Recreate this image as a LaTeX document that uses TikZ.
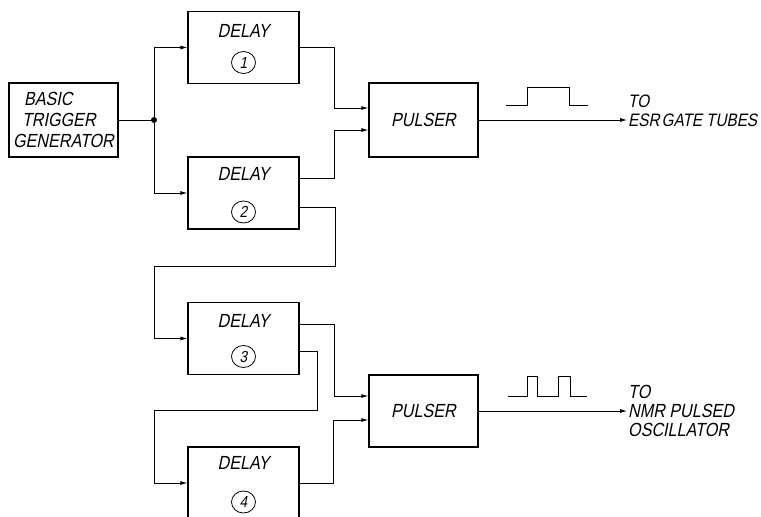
\documentclass[tikz,border=0pt]{standalone}
\usepackage{fontspec}
\newfontfamily\lettering{Liberation Sans}[FakeSlant=0.2,FakeStretch=0.85]
\usetikzlibrary{arrows.meta, positioning, calc, shapes.geometric}
\tikzset{
  box/.style={draw, line width=1.3pt, align=center, inner sep=0pt},
  delaybox/.style={box, minimum width=111pt, minimum height=72pt},
  blockbox/.style={box, minimum width=109pt, minimum height=74pt},
  num/.style={draw, ellipse, line width=0.8pt, inner sep=0pt, minimum width=24pt,
    minimum height=22pt, font=\lettering\fontsize{16}{16}\selectfont},
  lbl/.style={inner sep=1pt, align=left, font=\lettering\fontsize{19}{19}\selectfont},
  wire/.style={line width=0.8pt},
  arr/.style={wire, -{Latex[length=7pt,width=4pt]}},
}
\begin{document}
\begin{tikzpicture}[x=1pt, y=-1pt, font=\lettering\fontsize{19}{21}\selectfont]
  \clip (0,0) rectangle (761,517);
  % blocks
  \node[blockbox, align=left] (trig) at (63.5,120) {\hspace*{11pt}BASIC\\\hspace*{9pt}TRIGGER\\GENERATOR};
  \node[delaybox] (d1) at (243.5,47.5) {};
  \node[delaybox] (d2) at (243.5,193) {};
  \node[delaybox] (d3) at (243.5,338.5) {};
  \node[delaybox] (d4) at (243.5,483) {};
  \node[blockbox] (p1) at (423.5,120) {PULSER};
  \node[blockbox, minimum height=72pt] (p2) at (423.5,411) {PULSER};
  \node[lbl] (d1t) at ([yshift=17pt]d1.center) {DELAY};
  \node[num] (d1n) at ([yshift=-15pt]d1.center) {1};
  \node[lbl] (d2t) at ([yshift=19pt]d2.center) {DELAY};
  \node[num] (d2n) at ([yshift=-19pt]d2.center) {2};
  \node[lbl] (d3t) at ([yshift=18pt]d3.center) {DELAY};
  \node[num] (d3n) at ([yshift=-18pt]d3.center) {3};
  \node[lbl] (d4t) at ([yshift=20pt]d4.center) {DELAY};
  \node[num] (d4n) at ([yshift=-19pt]d4.center) {4};
  % outputs
  \node[lbl, anchor=west, font=\lettering\fontsize{18}{19}\selectfont] (esr) at (627,111)
    {TO\\ESR\hspace{2pt}GATE\hspace{4pt}TUBES};
  \node[lbl, anchor=west] (nmr) at (627,411) {TO\\NMR PULSED\\OSCILLATOR};
  % trigger split
  \node[circle, fill, inner sep=0pt, minimum size=6pt] (jn) at (154,120) {};
  \draw[wire] (trig.east) -- (jn);
  \draw[arr] (jn) |- (d1.west);
  \draw[arr] (jn) |- (d2.west);
  % delays to pulsers
  \draw[arr] (d1.east) -- ++(35,0) |- ([yshift=12pt]p1.west);
  \draw[arr] ([yshift=15pt]d2.east) -- ++(35,0) |- ([yshift=-10pt]p1.west);
  \draw[arr] ([yshift=-14pt]d2.east) -- ++(36,0) -- ++(0,59) -| (d3.west -| jn) -- (d3.west);
  \draw[arr] ([yshift=14.5pt]d3.east) -- ++(35,0) |- ([yshift=15pt]p2.west);
  \draw[arr] ([yshift=-12.5pt]d3.east) -- ++(18,0) -- ++(0,59) -| (d4.west -| jn) -- (d4.west);
  \draw[arr] (d4.east) -- ++(34,0) |- ([yshift=-9pt]p2.west);
  \draw[arr] (p1.east) -- (esr.west |- p1.east);
  \draw[arr] (p2.east) -- (nmr.west |- p2.east);
  % pulse shapes
  \draw[wire] (506,105) -- (527,105) -- (527,87) -- (569,87) -- (569,105) -- (588,105);
  \draw[wire] (508,396) -- (527,396) -- (527,376) -- (537,376) -- (537,396)
    -- (558,396) -- (558,376) -- (570,376) -- (570,396) -- (587,396);
\end{tikzpicture}
\end{document}
